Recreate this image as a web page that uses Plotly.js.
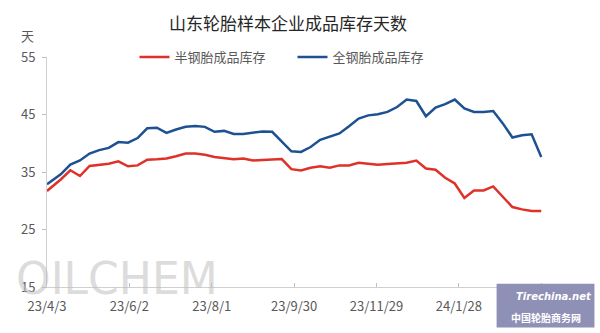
<!DOCTYPE html>
<html>
<head>
<meta charset="utf-8">
<script src="https://cdn.plot.ly/plotly-3.0.1.min.js"></script>
<style>
  html, body { margin: 0; padding: 0; background: #ffffff; }
  #chart { width: 600px; height: 333px; }
</style>
</head>
<body>
<div id="chart"></div>
<script>
// ---- data ----
const dates = [
  '2023-04-03', '2023-04-13', '2023-04-20', '2023-04-27', '2023-05-04', '2023-05-11',
  '2023-05-18', '2023-05-25', '2023-06-01', '2023-06-08', '2023-06-15', '2023-06-22',
  '2023-06-29', '2023-07-06', '2023-07-13', '2023-07-20', '2023-07-27', '2023-08-03',
  '2023-08-10', '2023-08-17', '2023-08-24', '2023-08-31', '2023-09-07', '2023-09-14',
  '2023-09-21', '2023-09-28', '2023-10-05', '2023-10-12', '2023-10-19', '2023-10-26',
  '2023-11-02', '2023-11-09', '2023-11-16', '2023-11-23', '2023-11-30', '2023-12-07',
  '2023-12-14', '2023-12-21', '2023-12-28', '2024-01-04', '2024-01-11', '2024-01-18',
  '2024-01-25', '2024-02-01', '2024-02-08', '2024-02-15', '2024-02-22', '2024-02-29',
  '2024-03-07', '2024-03-14', '2024-03-21', '2024-03-28'
];
const semiSteel = [
  31.7, 33.7, 35.3, 34.3, 36.05, 36.3, 36.45, 36.85, 36.0, 36.15, 37.15, 37.2,
  37.35, 37.75, 38.2, 38.2, 38.0, 37.6, 37.45, 37.2, 37.35, 37.0, 37.1, 37.15,
  37.25, 35.5, 35.25, 35.75, 36.0, 35.75, 36.15, 36.15, 36.6, 36.45, 36.25, 36.4,
  36.45, 36.6, 37.0, 35.6, 35.4, 34.0, 33.0, 30.5, 31.8, 31.8, 32.5, 30.65,
  28.9, 28.5, 28.2, 28.2
];
const allSteel = [
  32.85, 34.6, 36.3, 37.0, 38.2, 38.8, 39.2, 40.2, 40.1, 40.9, 42.6, 42.7,
  41.8, 42.4, 42.85, 43.0, 42.85, 42.0, 42.15, 41.6, 41.6, 41.85, 42.05, 42.0,
  40.3, 38.6, 38.5, 39.35, 40.6, 41.1, 41.7, 42.95, 44.3, 44.85, 45.05, 45.45,
  46.3, 47.6, 47.35, 44.7, 46.2, 46.8, 47.6, 46.05, 45.45, 45.45, 45.6, 43.45,
  41.0, 41.4, 41.55, 37.6
];
const seriesNames = ['半钢胎成品库存', '全钢胎成品库存'];
const chartTitle = '山东轮胎样本企业成品库存天数';
const yUnit = '天';
const yTicks = [15, 25, 35, 45, 55];

// ---- chart ----
const FONT = '"Noto Sans CJK SC", "Noto Sans", sans-serif';
const traces = [
  { x: dates, y: semiSteel, name: seriesNames[0], type: 'scatter', mode: 'lines',
    line: { color: '#df3129', width: 2.5 } },
  { x: dates, y: allSteel, name: seriesNames[1], type: 'scatter', mode: 'lines',
    line: { color: '#1d5191', width: 2.5 } }
];

const layout = {
  width: 600, height: 333,
  margin: { l: 46.7, r: 55.5, t: 56.7, b: 45.7 },
  paper_bgcolor: '#ffffff', plot_bgcolor: '#ffffff',
  font: { family: FONT, size: 13, color: '#595959' },
  title: { text: chartTitle, font: { family: FONT, size: 17, color: '#262626' },
           x: 0.48, xref: 'container', xanchor: 'center', y: 0.928, yref: 'container', yanchor: 'middle' },
  showlegend: true,
  legend: { orientation: 'h', x: 0.176, xanchor: 'left', y: 1.0, yanchor: 'middle',
            font: { family: FONT, size: 13, color: '#595959' }, itemwidth: 30,
            entrywidth: 113, entrywidthmode: 'pixels',
            bgcolor: 'rgba(0,0,0,0)' },
  xaxis: {
    type: 'date', range: ['2023-04-03', '2024-03-30'],
    tick0: '2023-04-03', dtick: 60 * 86400000, tickformat: '%y/%-m/%-d',
    ticks: 'inside', ticklen: 4, tickcolor: '#bfbfbf',
    ticklabelstandoff: 7,
    showline: true, linecolor: '#d0d0d0', linewidth: 1,
    showgrid: false, zeroline: false,
    tickfont: { family: FONT, size: 13, color: '#595959' }
  },
  yaxis: {
    range: [15, 55], tickvals: yTicks,
    ticks: 'outside', ticklen: 4, tickcolor: '#bfbfbf',
    ticklabelstandoff: 4,
    showline: true, linecolor: '#d0d0d0', linewidth: 1,
    showgrid: false, zeroline: false,
    tickfont: { family: FONT, size: 13, color: '#595959' }
  },
  shapes: [
    { type: 'rect', xref: 'paper', yref: 'paper', layer: 'above',
      x0: 0.9046, x1: 1.1015, y0: -0.1765, y1: 0.0143,
      fillcolor: '#8f90b6', line: { width: 0 } }
  ],
  annotations: [
    { text: yUnit, xref: 'paper', yref: 'paper', x: -0.0396, y: 1.094,
      xanchor: 'center', yanchor: 'middle', showarrow: false,
      font: { family: FONT, size: 13, color: '#595959' } },
    { text: 'OILCHEM', xref: 'paper', yref: 'paper', x: 0.141, y: 0.035,
      xanchor: 'center', yanchor: 'middle', showarrow: false,
      font: { family: '"DejaVu Sans", sans-serif', size: 44, color: 'rgba(190,190,190,0.55)' } },
    { text: '<i><b>Tirechina.net</b></i>', xref: 'paper', yref: 'paper', x: 1.02, y: -0.04,
      xanchor: 'center', yanchor: 'middle', showarrow: false,
      font: { family: '"DejaVu Sans", sans-serif', size: 10, color: '#ffffff' } },
    { text: '<b>中国轮胎商务网</b>', xref: 'paper', yref: 'paper', x: 1.005, y: -0.134,
      xanchor: 'center', yanchor: 'middle', showarrow: false,
      font: { family: FONT, size: 10, color: '#ffffff' } }
  ]
};

Plotly.newPlot('chart', traces, layout, { displayModeBar: false, staticPlot: true });
</script>
</body>
</html>
